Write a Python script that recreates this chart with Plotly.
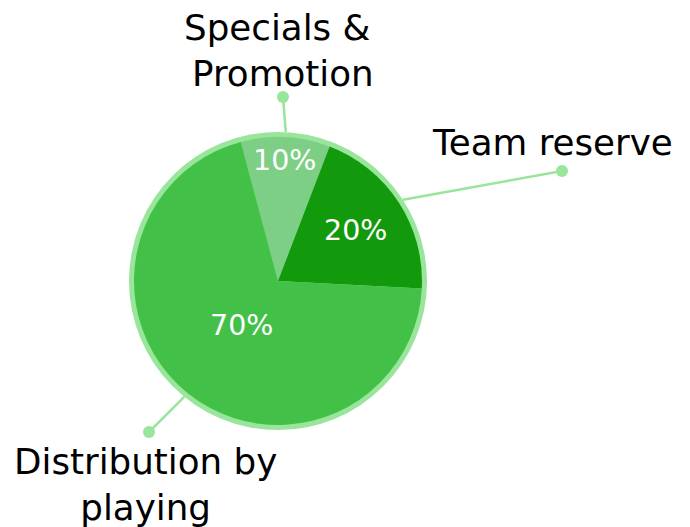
import math
import plotly.graph_objects as go

# ---- data ----
categories = ["Specials &<br>Promotion", "Team reserve", "Distribution by<br>playing"]
values = [10, 20, 70]
slice_colors = ["#7ecf86", "#129a0c", "#43c047"]

# ---- layout constants (pixels in the final page) ----
W, H = 690, 527
OFF = 8                    # page body margin
CX, CY = 278, 281          # pie centre
R_PIE = 144                # radius of the slices
R_RING = 149               # radius of the light outer ring
ROTATION = -15
RING_COLOR = "#98e59b"
FONT = "DejaVu Sans"

# label placement (style/position, not data)
pct_radius_frac = [0.84, 0.64, 0.40]
label_dot_px = [(283, 97), (562, 171), (149, 432)]
label_text_px = [(283, 51), (552, 143), (145, 484)]


def px_x(x):
    return (x - OFF) / W


def px_y(y):
    return 1 - (y - OFF) / H


fig = go.Figure()

# outer ring (background disc)
fig.add_trace(go.Pie(
    values=[1], labels=["ring"], sort=False,
    marker=dict(colors=[RING_COLOR], line=dict(width=0)),
    textinfo="none", hoverinfo="skip", showlegend=False,
    domain=dict(x=[px_x(CX - R_RING), px_x(CX + R_RING)],
                y=[px_y(CY + R_RING), px_y(CY - R_RING)]),
))

# main pie
fig.add_trace(go.Pie(
    values=values, labels=[c.replace("<br>", " ") for c in categories],
    sort=False, direction="clockwise", rotation=ROTATION,
    marker=dict(colors=slice_colors, line=dict(width=0)),
    textinfo="none", showlegend=False,
    domain=dict(x=[px_x(CX - R_PIE), px_x(CX + R_PIE)],
                y=[px_y(CY + R_PIE), px_y(CY - R_PIE)]),
))

total = sum(values)
cum = 0
shapes = []
annotations = []
for i, v in enumerate(values):
    mid = math.radians(ROTATION + 360 * (cum + v / 2) / total)
    cum += v
    # percentage label inside slice
    rr = R_PIE * pct_radius_frac[i]
    tx = CX + rr * math.sin(mid)
    ty = CY - rr * math.cos(mid)
    annotations.append(dict(
        x=px_x(tx), y=px_y(ty), xref="paper", yref="paper",
        text=f"{round(100 * v / total)}%", showarrow=False,
        font=dict(family=FONT, size=28.5, color="white"),
        xanchor="center", yanchor="middle",
    ))
    # leader line from ring edge to dot
    sx = CX + R_RING * math.sin(mid)
    sy = CY - R_RING * math.cos(mid)
    dx, dy = label_dot_px[i]
    shapes.append(dict(
        type="line", xref="paper", yref="paper",
        x0=px_x(sx), y0=px_y(sy), x1=px_x(dx), y1=px_y(dy),
        line=dict(color=RING_COLOR, width=2.5), layer="below",
    ))
    rdot = 6
    shapes.append(dict(
        type="circle", xref="paper", yref="paper",
        x0=px_x(dx - rdot), x1=px_x(dx + rdot),
        y0=px_y(dy + rdot), y1=px_y(dy - rdot),
        fillcolor=RING_COLOR, line=dict(width=0),
    ))
    lx, ly = label_text_px[i]
    text = categories[i].replace("&<br>", "&\u00a0<br>")
    annotations.append(dict(
        x=px_x(lx), y=px_y(ly), xref="paper", yref="paper",
        text=text, showarrow=False,
        font=dict(family=FONT, size=35.7, color="black"),
        xanchor="center", yanchor="middle", align="center",
    ))

fig.update_layout(
    width=W, height=H,
    margin=dict(l=0, r=0, t=0, b=0),
    paper_bgcolor="white", plot_bgcolor="white",
    shapes=shapes, annotations=annotations,
)

fig.write_html("out.html")
